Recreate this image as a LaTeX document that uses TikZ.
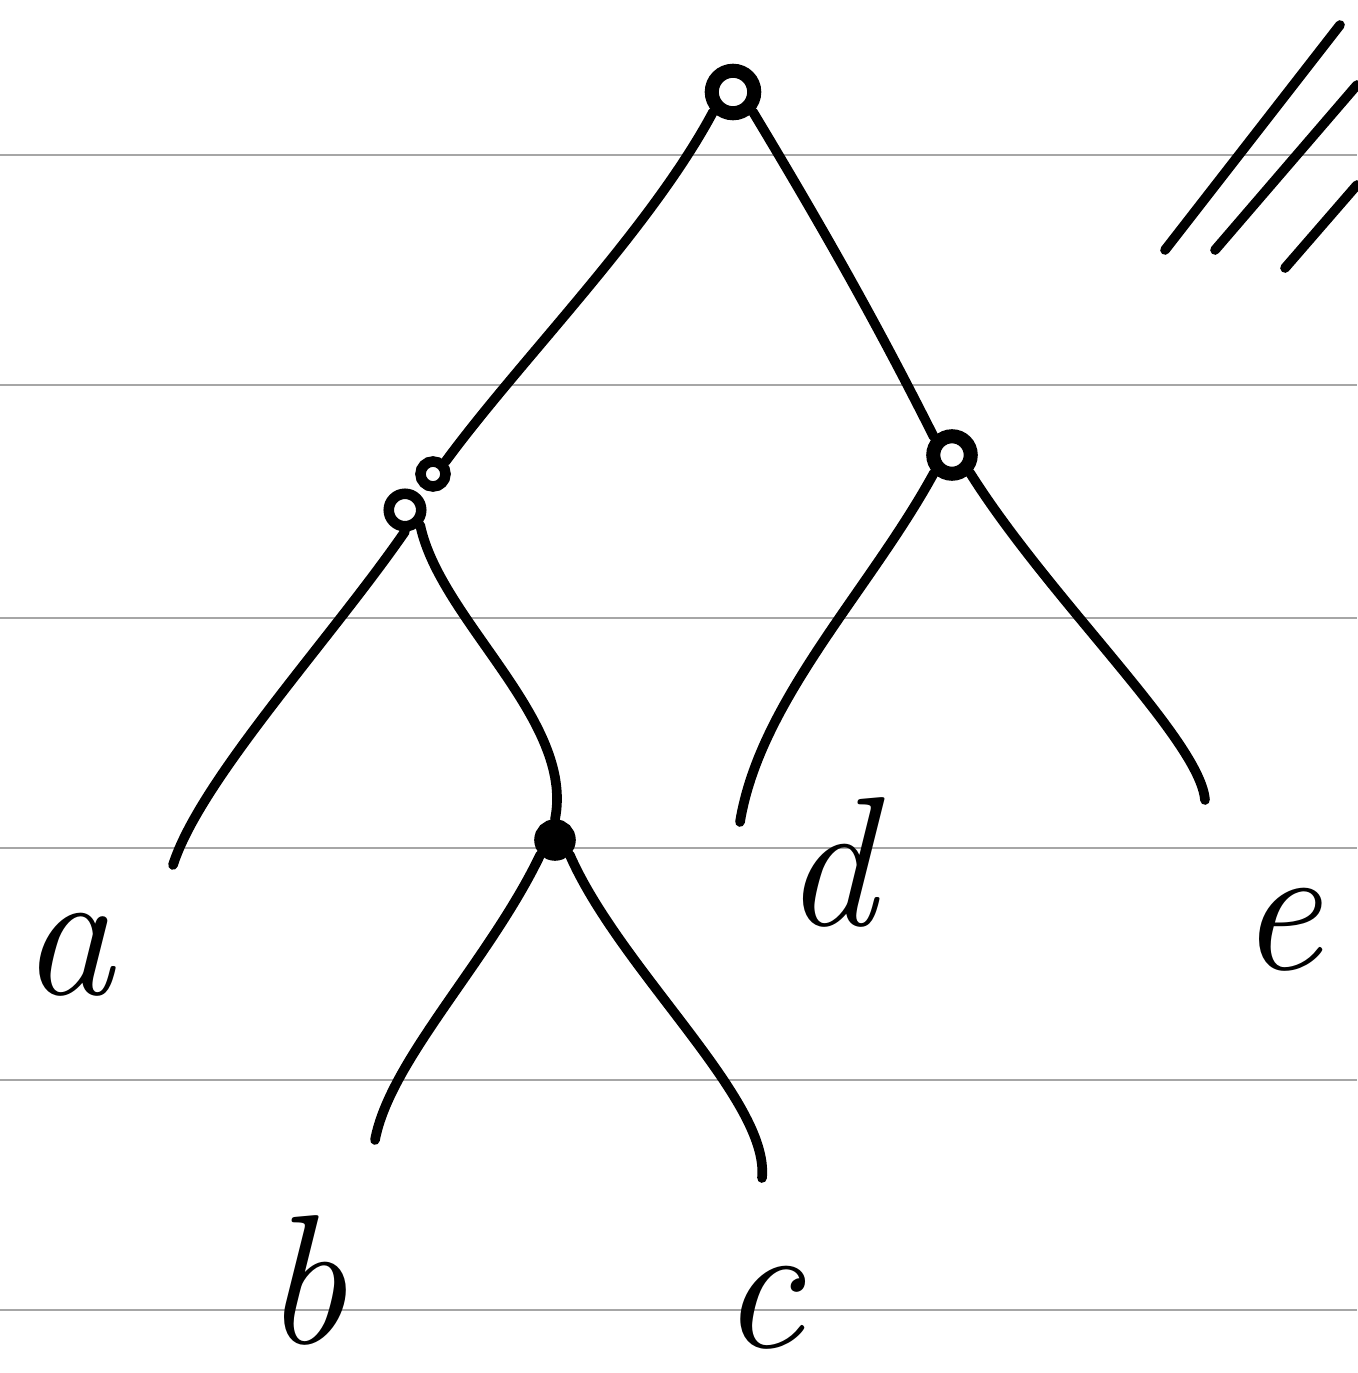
\documentclass[tikz,border=0pt]{standalone}
\begin{document}
\begin{tikzpicture}[x=0.02cm,y=-0.02cm,
  rule/.style={draw=black!35,line width=1.6pt},
  ink/.style={draw=black,line width=5.5pt,line cap=round,line join=round},
  knot/.style={draw=black,circle,inner sep=0pt,line width=8pt},
  lbl/.style={font=\fontsize{105}{105}\selectfont\itshape,inner sep=0pt}]
\useasboundingbox (0,0) rectangle (1357,1373);
% ruled paper lines
\foreach \yy in {155,385,618,848,1080,1310}
  \draw[rule] (0,\yy) -- (1357,\yy);
% internal nodes
\node[knot,minimum size=0.85cm] (root) at (733,92) {};
\node[knot,line width=6pt,minimum size=0.65cm] (L) at (405,510) {};
\node[knot,line width=6pt,minimum size=0.5cm] (Lx) at (433,474) {};
\node[knot,minimum size=0.75cm] (R) at (952,455) {};
\node[knot,fill=black,minimum size=0.55cm] (M) at (555,840) {};
% leaf ends
\coordinate (ea) at (173,865);
\coordinate (eb) at (375,1140);
\coordinate (ec) at (762,1178);
\coordinate (ed) at (740,822);
\coordinate (ee) at (1205,800);
% edges
\draw[ink] (root.south west) .. controls (650,230) and (520,360) .. (Lx.north east);
\draw[ink] (root.south east) .. controls (830,240) and (880,330) .. (R.north west);
\draw[ink] (L.south) .. controls (330,640) and (200,780) .. (ea);
\draw[ink] (L.south east) .. controls (440,620) and (575,720) .. (M.north);
\draw[ink] (R.south west) .. controls (870,590) and (760,700) .. (ed);
\draw[ink] (R.south east) .. controls (1050,600) and (1200,740) .. (ee);
\draw[ink] (M.south west) .. controls (490,960) and (390,1060) .. (eb);
\draw[ink] (M.south east) .. controls (620,970) and (770,1100) .. (ec);
% labels
\node[lbl] (la) at (68,955) {a};
\node[lbl] (lb) at (305,1280) {b};
\node[lbl] (lc) at (762,1308) {c};
\node[lbl] (ld) at (830,862) {d};
\node[lbl] (le) at (1280,930) {e};
% triple slash
\coordinate (s1a) at (1165,250); \coordinate (s1b) at (1340,25);
\coordinate (s2a) at (1215,250); \coordinate (s2b) at (1357,85);
\coordinate (s3a) at (1285,268); \coordinate (s3b) at (1357,185);
\draw[ink] (s1a) -- (s1b);
\draw[ink] (s2a) -- (s2b);
\draw[ink] (s3a) -- (s3b);
\end{tikzpicture}
\end{document}
